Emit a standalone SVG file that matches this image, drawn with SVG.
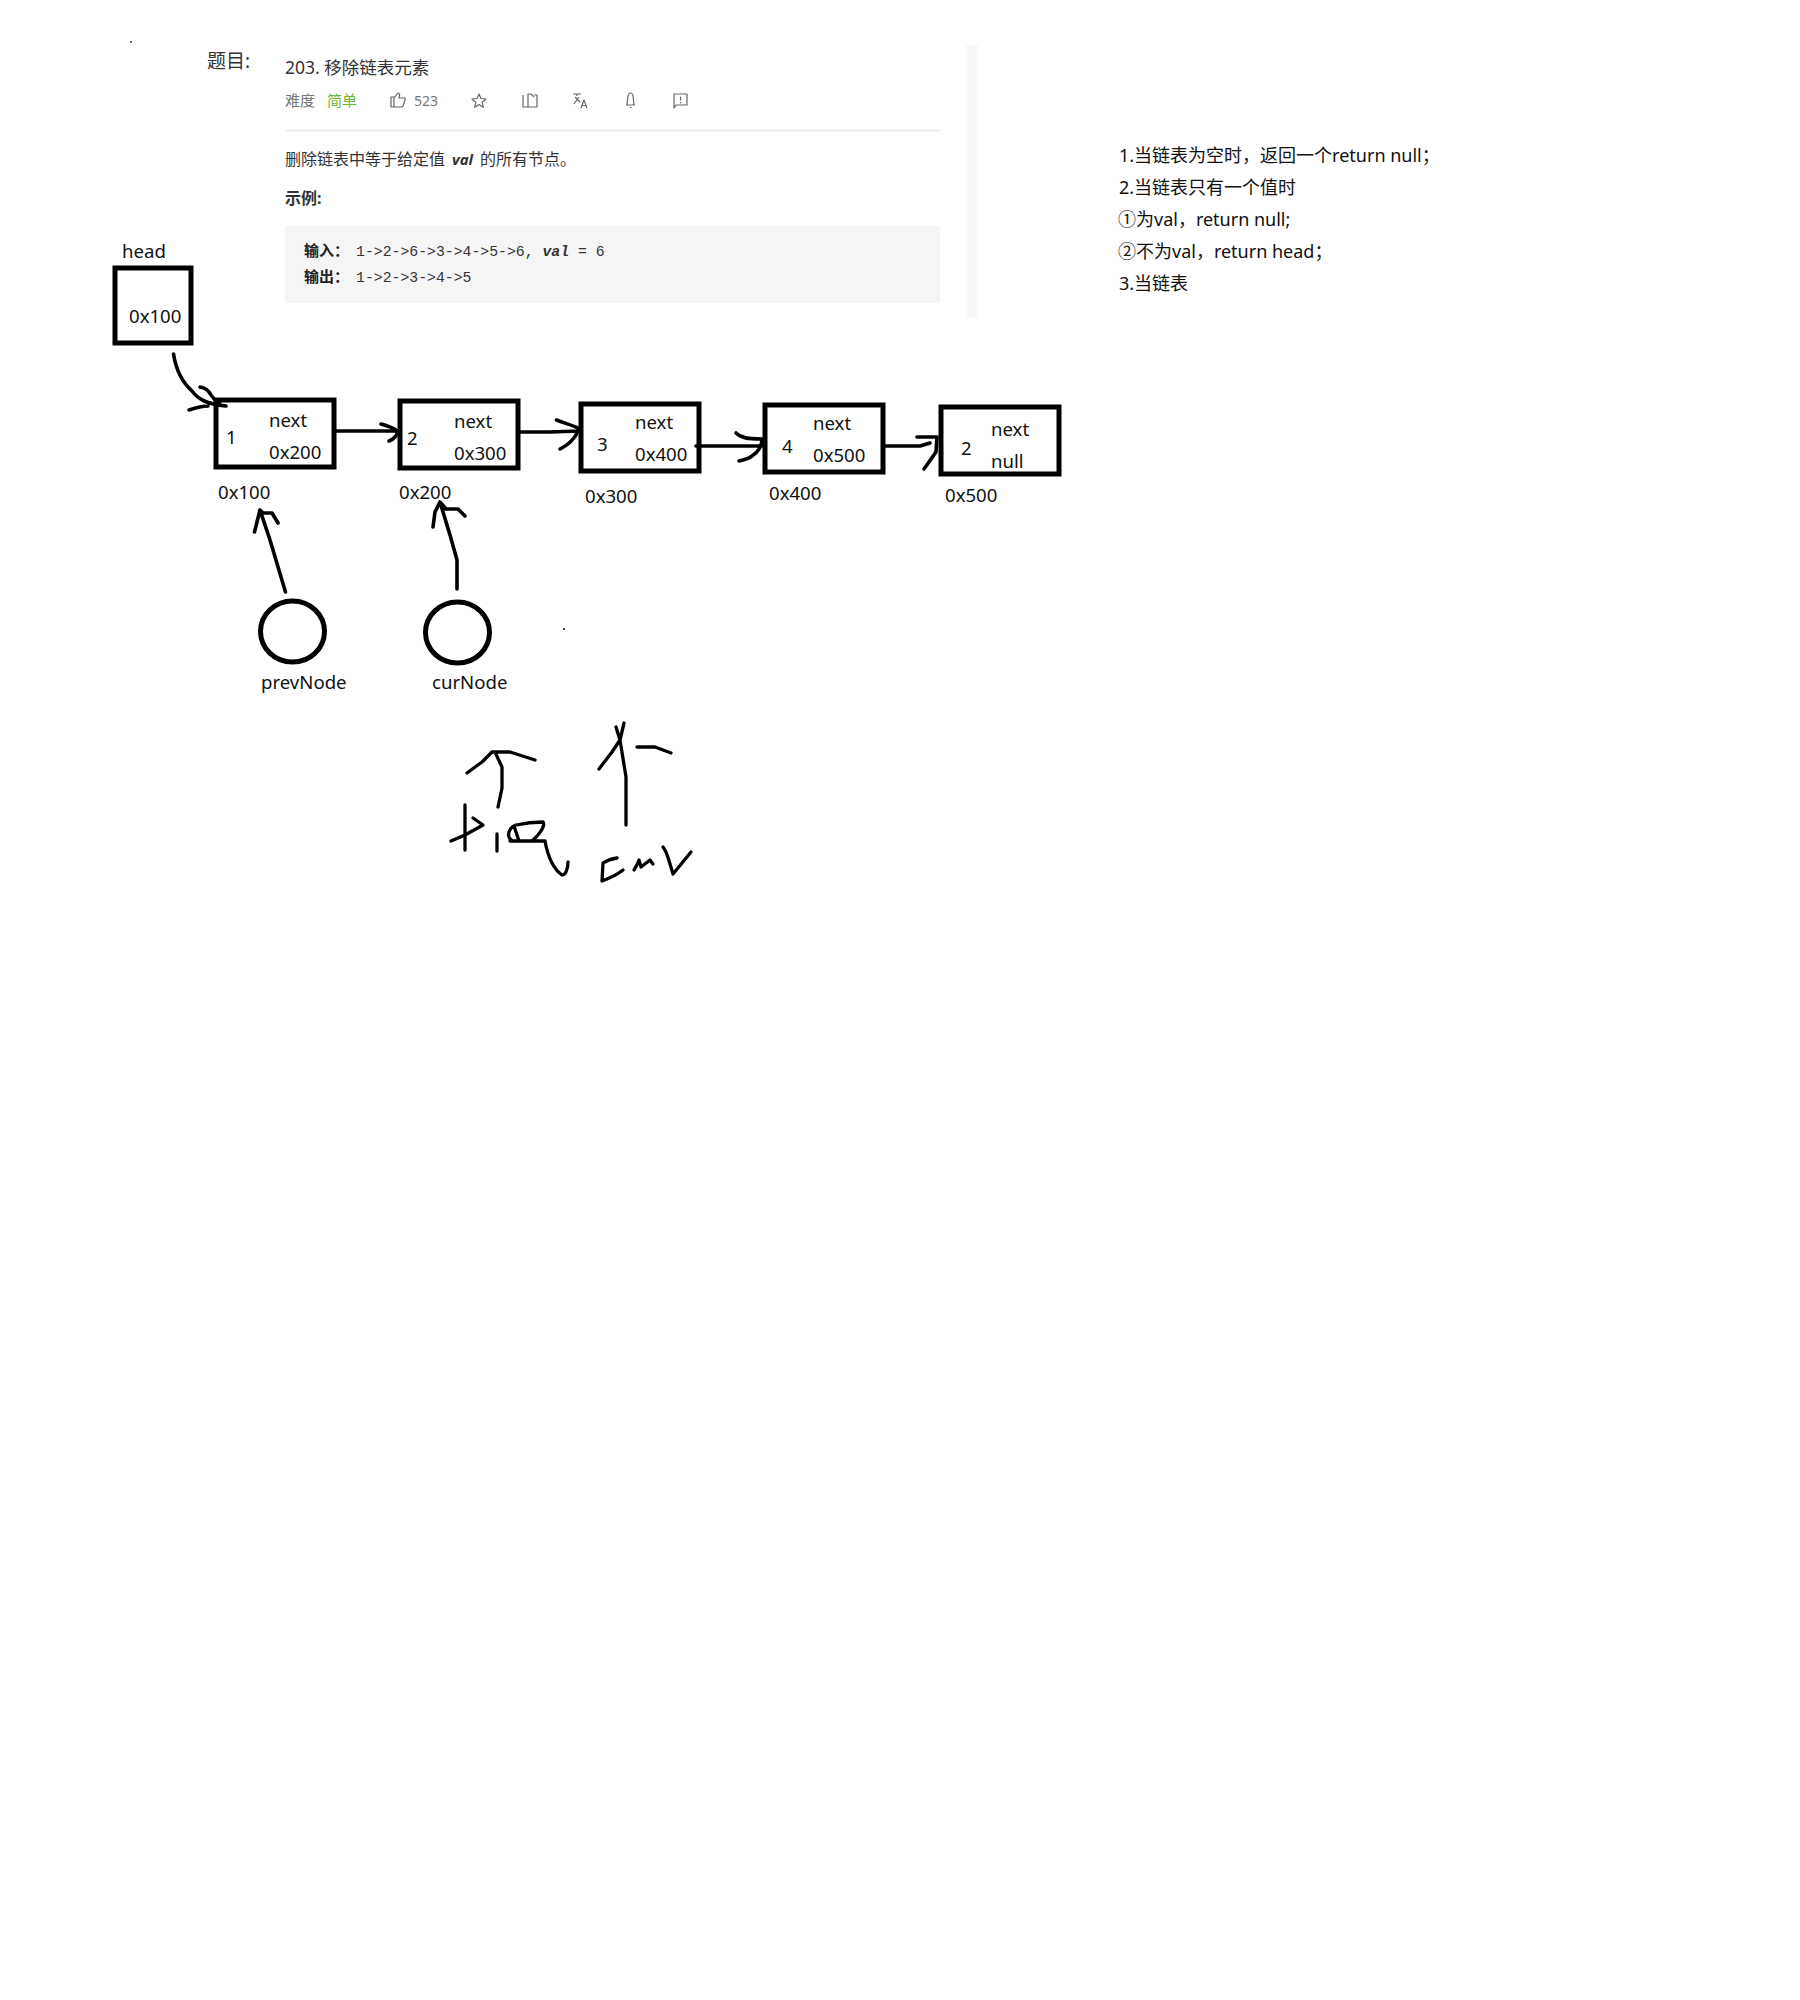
<svg xmlns="http://www.w3.org/2000/svg" width="1800" height="2000" viewBox="0 0 1800 2000">
<style>
text{font-family:"Noto Sans","Noto Sans CJK SC",sans-serif;fill:#111;font-size:18.6px}
.box{fill:#fff;stroke:#000;stroke-width:5}
.ink{fill:none;stroke:#000;stroke-width:3.6;stroke-linecap:round;stroke-linejoin:round}
.ink2{fill:none;stroke:#000;stroke-width:3.3;stroke-linecap:round;stroke-linejoin:round}
.shot{fill:#333;font-size:16px}
.meta{fill:#777;font-size:15px}
.ico{fill:none;stroke:#666;stroke-width:1.2;stroke-linejoin:round}
.code{font-family:"Liberation Mono","Noto Sans CJK SC",monospace;fill:#333;font-size:14.8px}
.codeb{font-family:"Noto Sans CJK SC",sans-serif;font-weight:700;fill:#222;font-size:15px}
.note{font-size:18px}
</style>
<rect width="1800" height="2000" fill="#fff"/>
<g id="problem-screenshot">
<rect x="966" y="45" width="12" height="273" fill="#f8f8f8"/>
<circle cx="131" cy="42" r="0.9" fill="#222"/>
<text x="207" y="68" style="font-size:19px;fill:#333">题目:</text>
<text x="285" y="74" style="font-size:17.500px;fill:#333">203. 移除链表元素</text>
<text x="285" y="106" class="meta">难度</text>
<text x="327" y="106" class="meta" style="fill:#6db52c">简单</text>
<text x="414" y="106" class="meta" style="font-size:14px">523</text>
<path class="ico" d="M391 97v10h3v-10zM394 98l4-5c1 0 2 1 1.500 3l-.5 2h5c1 0 1.500 1 1 2l-2 6c-.3.800-1 1-2 1h-7"/>
<path class="ico" d="M479 94l2 4.500 5 .5-3.800 3.300 1.200 5-4.400-2.700-4.400 2.700 1.200-5L472 99l5-.5z"/>
<path class="ico" d="M523 95v12h14V95h-3M528 107V94h3l3 3"/>
<path class="ico" d="M573 94h8M577 94v2M574 104l5-7M575 97l5 5M581 108l3-8 3 8M582 105.500h4"/>
<path class="ico" d="M626 105h9M627 105l1-9c.3-2 1.500-3 2.500-3s2.200 1 2.500 3l1 9M630 107.500h1.500"/>
<path class="ico" d="M674 94h13v11h-11l-2 3zM680.500 96.500v4M680.500 102v1.200"/>
<line x1="285" y1="130.500" x2="940" y2="130.500" stroke="#e8e8e8" stroke-width="1.500"/>
<text x="285" y="165" class="shot">删除链表中等于给定值</text>
<text x="452" y="165" class="shot" style="font-weight:700;font-style:italic;font-size:15px">val</text>
<text x="480" y="165" class="shot">的所有节点。</text>
<text x="285" y="204" class="shot" style="font-weight:700">示例:</text>
<rect x="285" y="226" width="655" height="77" rx="3" fill="#f5f5f5"/>
<text x="304" y="256" class="codeb">输入：</text>
<text x="356" y="256" class="code" xml:space="preserve">1-&gt;2-&gt;6-&gt;3-&gt;4-&gt;5-&gt;6, <tspan font-weight="700" font-style="italic">val</tspan> = 6</text>
<text x="304" y="282" class="codeb">输出：</text>
<text x="356" y="282" class="code">1-&gt;2-&gt;3-&gt;4-&gt;5</text>
</g>
<g id="notes">
<text x="1119" y="162" class="note">1.当链表为空时，返回一个return null；</text>
<text x="1119" y="194" class="note">2.当链表只有一个值时</text>
<text x="1118" y="226" class="note">①为val，return null;</text>
<text x="1118" y="258" class="note">②不为val，return head；</text>
<text x="1119" y="290" class="note">3.当链表</text>
</g>
<g id="head">
<rect class="box" x="115" y="268" width="76" height="75"/>
<text x="122" y="258">head</text>
<text x="129" y="323">0x100</text>
</g>
<g id="node1">
<rect class="box" x="216" y="400" width="118" height="67"/>
<text x="226" y="444">1</text><text x="269" y="427">next</text><text x="269" y="459">0x200</text>
<text x="218" y="499">0x100</text>
</g>
<g id="node2">
<rect class="box" x="400" y="401" width="118" height="67"/>
<text x="407" y="445">2</text><text x="454" y="428">next</text><text x="454" y="460">0x300</text>
<text x="399" y="499">0x200</text>
</g>
<g id="node3">
<rect class="box" x="581" y="404" width="118" height="67"/>
<text x="597" y="451">3</text><text x="635" y="429">next</text><text x="635" y="461">0x400</text>
<text x="585" y="503">0x300</text>
</g>
<g id="node4">
<rect class="box" x="765" y="405" width="118" height="67"/>
<text x="782" y="453">4</text><text x="813" y="430">next</text><text x="813" y="462">0x500</text>
<text x="769" y="500">0x400</text>
</g>
<g id="node5">
<rect class="box" x="941" y="407" width="118" height="67"/>
<text x="961" y="455">2</text><text x="991" y="436">next</text><text x="991" y="468">null</text>
<text x="945" y="502">0x500</text>
</g>
<g id="prevNode">
<ellipse class="box" cx="292.500" cy="631.500" rx="32" ry="30.500"/>
<text x="261" y="689">prevNode</text>
</g>
<g id="curNode">
<ellipse class="box" cx="457.500" cy="632.500" rx="32" ry="30.500"/>
<text x="432" y="689">curNode</text>
</g>
<g id="connectors">
<path class="ink" d="M173.500 354C176 370 182 382 192 391C198 399 206 404 226 406M200 387C206 388 209 391 211 395C214 399 216 402 220 404M189 410C195 408 201 406 208 406"/>
<path class="ink" d="M336 431H395M381 424C388 426 394 428 397 431C398 435 394 439 389 441"/>
<path class="ink" d="M520 432H550L578 431M556.500 420C564 423 572 425 578 428C578 434 572 443 560 449"/>
<path class="ink" d="M696 446H762M736 433C741 438 748 439 762 439C762 446 758 452 752 456C748 459 744 460 739 461"/>
<path class="ink" d="M885 446H920L930 443M917 437H937L936 452L924 469"/>
<path class="ink" d="M285.500 592L270 540L260 510M254.500 532L260 510L263 513H272L278 523"/>
<path class="ink" d="M457 589V560L450 535L440 502M433 527L435 512L440 502L446 509H458L465 516"/>
<circle cx="564" cy="629" r="1" fill="#111"/>
</g>
<g id="handwriting">
<path class="ink2" d="M498 807L502 788V767L495 752M467 773L482 762L492 752H510L535 760"/>
<path class="ink2" d="M626 825V777L620 740L616 727M599 769L612 752L620 740L624 723M637 747H655L671 753"/>
<path class="ink2" d="M465 805V850M451 841L465 835L483 825L473 818M497 834V851"/>
<path class="ink2" d="M516 825C525 823 535 822 543 822C546 826 538 836 532 841H514C509 840 508 836 509 832C510 829 513 826 516 825ZM514 826L519 841M510 841H545C547 852 552 868 562 875C566 875 568 868 568 862"/>
<path class="ink2" d="M617 858C610 859 606 861 603 863L602 881C610 878 618 874 623 870M634 870C636 867 638 863 639 860L641 867L650 860L653 864M663 847C667 852 668 858 670 864L673 874L691 852"/>
</g>
</svg>
